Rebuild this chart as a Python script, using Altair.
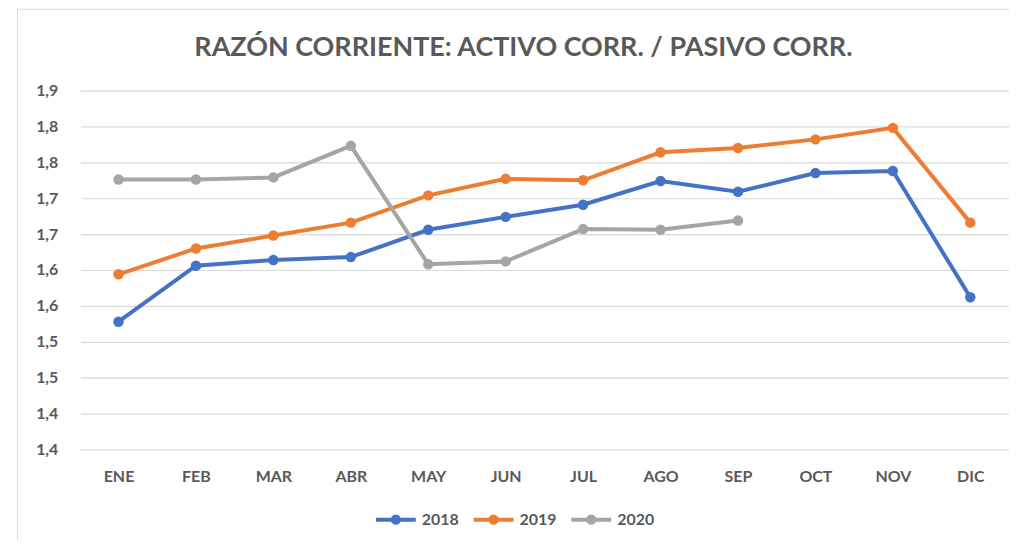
import altair as alt
import pandas as pd
import json

months = ["ENE", "FEB", "MAR", "ABR", "MAY", "JUN", "JUL", "AGO", "SEP", "OCT", "NOV", "DIC"]
v2018 = [1.578, 1.656, 1.664, 1.668, 1.706, 1.724, 1.741, 1.774, 1.759, 1.785, 1.788, 1.612]
v2019 = [1.644, 1.680, 1.698, 1.716, 1.754, 1.777, 1.775, 1.814, 1.820, 1.832, 1.848, 1.716]
v2020 = [1.776, 1.776, 1.779, 1.823, 1.658, 1.662, 1.707, 1.706, 1.719]
series_names = ["2018", "2019", "2020"]
series_colors = ["#4472C4", "#ED7D31", "#A5A5A5"]
y_ticks = [1.40, 1.45, 1.50, 1.55, 1.60, 1.65, 1.70, 1.75, 1.80, 1.85, 1.90]
y_tick_labels = ["1,4", "1,4", "1,5", "1,5", "1,6", "1,6", "1,7", "1,7", "1,8", "1,8", "1,9"]
title_text = "RAZÓN CORRIENTE: ACTIVO CORR. / PASIVO CORR."

rows = []
for name, vals in zip(series_names, [v2018, v2019, v2020]):
    for m, v in zip(months, vals):
        rows.append({"mes": m, "serie": name, "valor": v})
df = pd.DataFrame(rows)

FONT = "Lato"
GRAY = "#595959"

label_expr = json.dumps(y_tick_labels) + "[round((datum.value - 1.4) / 0.05)]"

x_enc = alt.X("mes:N", sort=months, title=None,
              scale=alt.Scale(padding=0.5),
              axis=alt.Axis(labelAngle=0, ticks=False, domain=False, grid=False,
                            labelPadding=19, labelFontSize=16, labelFontWeight="bold",
                            labelColor=GRAY, labelFont=FONT))
y_enc = alt.Y("valor:Q", title=None,
              scale=alt.Scale(domain=[1.4, 1.9], nice=False, zero=False),
              axis=alt.Axis(values=y_ticks, labelExpr=label_expr, ticks=False, domain=False,
                            grid=True, gridColor="#D9D9D9", gridWidth=1.2, labelOverlap=False,
                            labelPadding=22, labelFontSize=16, labelFontWeight="bold",
                            labelColor=GRAY, labelFont=FONT))
color_enc = alt.Color("serie:N", title=None,
                      scale=alt.Scale(domain=series_names, range=series_colors),
                      legend=alt.Legend(orient="none", direction="horizontal",
                                        legendX=295, legendY=408,
                                        symbolType="M-1,0L1,0M-0.16,0A0.16,0.16 0 1,0 0.16,0A0.16,0.16 0 1,0 -0.16,0Z",
                                        symbolSize=1600, symbolStrokeWidth=4,
                                        labelFontSize=16, labelFontWeight="bold",
                                        labelColor=GRAY, labelFont=FONT,
                                        columnPadding=6, labelOffset=4))

lines = alt.Chart(df).mark_line(
    strokeWidth=4,
    point=alt.OverlayMarkDef(filled=True, size=110, opacity=1),
).encode(x=x_enc, y=y_enc, color=color_enc)

one = pd.DataFrame({"k": [0]})
frame_top = alt.Chart(one).mark_rule(stroke="#D9D9D9", strokeWidth=1).encode(
    x=alt.value(-63), x2=alt.value(1000), y=alt.value(-81.5))
frame_left = alt.Chart(one).mark_rule(stroke="#D9D9D9", strokeWidth=1).encode(
    x=alt.value(-62.5), y=alt.value(-82), y2=alt.value(500))
edge_cover = alt.Chart(one).mark_rule(stroke="white", strokeWidth=2).encode(
    x=alt.value(0.3), y=alt.value(1), y2=alt.value(359))

title = alt.Chart(pd.DataFrame({"t": [title_text]})).mark_text(
    fontSize=27, fontWeight="bold", color=GRAY, font=FONT, align="center", baseline="middle"
).encode(text="t:N", x=alt.value(445), y=alt.value(-43))

chart = alt.layer(frame_top, frame_left, edge_cover, lines, title).properties(
    width=932, height=360,
    autosize=alt.AutoSizeParams(type="none"),
    padding={"left": 72, "top": 82, "right": 0, "bottom": 90},
    background="white",
).configure_view(stroke="transparent", strokeWidth=0
).configure_axis(domain=False, domainColor="transparent", domainWidth=0, ticks=False)

chart.save("out.html", embed_options={"renderer": "svg", "actions": False})
